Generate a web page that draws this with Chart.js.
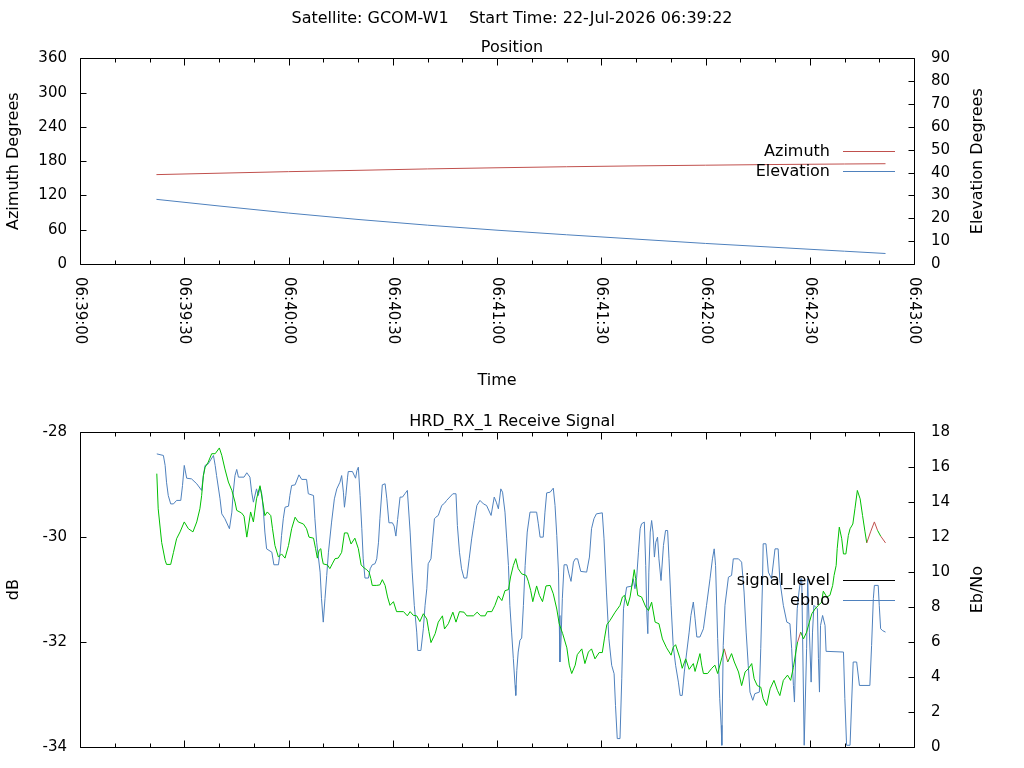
<!DOCTYPE html>
<html>
<head>
<meta charset="utf-8">
<title>GCOM-W1 pass</title>
<script src="https://cdn.jsdelivr.net/npm/chart.js@4.4.1/dist/chart.umd.min.js"></script>
<style>
  html, body { margin: 0; padding: 0; background: #fff; overflow: hidden; }
  #wrap { position: relative; width: 1024px; height: 768px; overflow: hidden; }
  canvas { position: absolute; left: 0; }
  #posChart { top: 0; }
  #sigChart { top: 400px; }
</style>
</head>
<body>
<div id="wrap">
  <canvas id="posChart" width="1024" height="400"></canvas>
  <canvas id="sigChart" width="1024" height="380"></canvas>
</div>
<script>
// time axis is seconds after 06:39:00
const START_HMS = [6, 39, 0];
const titleText = 'Satellite: GCOM-W1    Start Time: 22-Jul-2026 06:39:22';

// position plot
const posTime   = [22, 40, 60, 80, 100, 120, 140, 160, 180, 200, 220, 231.8];
const azimuth   = [156.5, 159, 161.7, 164, 166.5, 168.5, 170.3, 171.8, 173.0, 174.2, 175.1, 175.6];
const elevation = [28.3, 25.4, 22.3, 19.5, 17.0, 14.8, 12.8, 10.9, 9.0, 7.3, 5.6, 4.6];

// receive signal plot
const sigTime = [
  22.1, 22.5, 23.5, 24.5, 24.9, 26.1, 26.9, 27.8, 28.8, 30.0, 31.2, 32.5, 33.6, 34.5, 35.0, 35.5,
  36.0, 36.9, 37.9, 38.9, 40.1, 40.8, 41.7, 42.7, 43.7, 44.6, 45.1, 46.5, 47.2, 48.0, 49.1, 49.9,
  50.8, 51.8, 52.6, 53.2, 53.9, 54.9, 55.4, 56.1, 57.1, 58.0, 59.0, 60.0, 60.9, 61.9, 62.8, 64.3,
  65.2, 65.9, 67.2, 67.8, 68.3, 68.8, 69.3, 69.6, 70.0, 71.2, 71.9, 72.6, 73.4, 74.3, 75.3, 76.1,
  77.0, 78.0, 79.1, 80.1, 80.9, 81.8, 82.5, 83.2, 83.7, 84.1, 85.4, 86.3, 87.0, 87.8, 88.5, 89.2,
  90.2, 91.1, 93.1, 94.2, 95.0, 95.9, 96.9, 97.8, 98.8, 99.8, 100.4, 101.0, 102.2, 103.1, 104.3, 104.9,
  106.0, 107.3, 108.2, 109.2, 110.5, 111.3, 113.2, 114.3, 115.3, 116.6, 117.2, 118.5, 119.4, 120.4, 121.4, 122.3,
  123.3, 123.9, 124.7, 125.4, 126.1, 127.1, 128.4, 129.0, 129.7, 130.3, 131.4, 132.2, 133.1, 134.1, 135.3, 136.2,
  137.2, 137.9, 138.9, 140.1, 140.8, 141.5, 142.5, 143.1, 144.4, 145.3, 146.3, 147.2, 148.2, 149.4, 150.3, 150.9,
  151.6, 152.5, 154.0, 155.4, 156.1, 156.7, 157.6, 158.3, 158.9, 159.5, 159.9, 160.5, 161.6, 162.8, 163.6, 164.5,
  165.5, 166.6, 167.6, 168.8, 170.1, 170.7, 171.4, 172.7, 173.3, 174.3, 175.3, 176.5, 177.0, 178.4, 178.9, 179.4,
  180.6, 181.8, 182.7, 183.5, 184.7, 185.4, 186.4, 187.5, 188.3, 189.5, 190.4, 191.4, 192.3, 193.3, 194.0, 194.9,
  195.9, 196.6, 197.6, 198.6, 199.7, 200.7, 201.4, 202.4, 203.6, 204.5, 205.3, 206.0, 206.5, 207.4, 208.2, 209.1,
  209.9, 210.6, 211.5, 212.5, 213.4, 213.9, 214.9, 215.8, 216.6, 217.0, 217.6, 217.9, 218.5, 219.2, 219.7, 220.4,
  221.1, 221.6, 222.4, 223.0, 223.7, 224.5, 225.2, 225.9, 226.4, 227.5, 228.6, 229.5, 230.4, 231.8
];
const sigLevel = [
  -28.79, -29.46, -30.10, -30.44, -30.52, -30.52, -30.29, -30.03, -29.90, -29.71, -29.84, -29.90, -29.71, -29.46, -29.21, -28.83,
  -28.67, -28.57, -28.41, -28.41, -28.30, -28.44, -28.70, -28.95, -29.11, -29.33, -29.49, -29.54, -29.60, -30.00, -29.52, -29.71,
  -29.27, -29.02, -29.33, -29.59, -29.52, -29.59, -29.84, -30.16, -30.38, -30.32, -30.40, -30.16, -29.84, -29.62, -29.71, -29.75,
  -29.84, -30.00, -30.02, -30.22, -30.40, -30.25, -30.22, -30.38, -30.51, -30.53, -30.60, -30.51, -30.41, -30.40, -30.29, -29.92,
  -29.92, -30.13, -30.02, -30.22, -30.53, -30.59, -30.62, -30.67, -30.79, -30.92, -30.92, -30.91, -30.81, -30.92, -31.14, -31.30,
  -31.23, -31.42, -31.42, -31.50, -31.42, -31.49, -31.50, -31.61, -31.46, -31.56, -31.80, -32.01, -31.84, -31.62, -31.50, -31.75,
  -31.65, -31.43, -31.62, -31.42, -31.43, -31.50, -31.50, -31.43, -31.50, -31.50, -31.42, -31.42, -31.30, -31.12, -31.21, -31.02,
  -31.00, -30.76, -30.54, -30.41, -30.60, -30.70, -30.73, -30.84, -31.02, -31.23, -30.93, -31.11, -31.23, -30.93, -30.92, -31.08,
  -31.37, -31.65, -31.84, -32.11, -32.44, -32.60, -32.44, -32.24, -32.13, -32.41, -32.19, -32.13, -32.32, -32.20, -32.20, -31.94,
  -31.67, -31.59, -31.43, -31.30, -31.14, -31.11, -31.31, -31.14, -30.89, -30.62, -30.79, -31.11, -31.14, -31.33, -31.40, -31.24,
  -31.62, -31.65, -31.94, -32.11, -32.25, -32.10, -32.05, -32.32, -32.50, -32.32, -32.52, -32.41, -32.56, -32.22, -32.44, -32.60,
  -32.60, -32.50, -32.44, -32.60, -32.30, -32.13, -32.38, -32.22, -32.38, -32.57, -32.83, -32.57, -32.51, -32.41, -32.70, -32.83,
  -32.86, -33.08, -33.21, -32.89, -32.73, -32.92, -33.02, -32.73, -32.63, -32.73, -32.48, -32.19, -32.00, -31.81, -31.94, -31.81,
  -31.62, -31.46, -31.37, -31.30, -31.24, -31.03, -31.14, -31.11, -30.92, -30.73, -30.54, -30.22, -29.81, -30.03, -30.32, -30.32,
  -29.97, -29.84, -29.75, -29.46, -29.11, -29.27, -29.59, -29.90, -30.11, -29.90, -29.71, -29.87, -29.98, -30.11
];
// signal_level segments drawn red (start time of the segment)
const redSegStart = [185.4, 206.5, 226.4, 227.5, 228.6, 230.4];

const ebnoTime = [
  22.1, 24.0, 24.5, 24.9, 25.4, 26.1, 26.9, 27.8, 29.0, 29.5, 30.0, 30.7, 32.1, 33.6, 35.0, 35.5,
  36.0, 36.9, 38.4, 38.9, 39.3, 40.3, 40.8, 41.7, 43.0, 43.7, 44.1, 44.6, 45.1, 45.6, 47.2, 48.0,
  48.9, 49.4, 49.9, 50.8, 51.3, 51.8, 52.3, 52.8, 53.2, 53.7, 55.2, 55.8, 57.1, 57.6, 58.0, 58.5,
  59.0, 60.0, 60.4, 60.9, 61.9, 63.0, 63.8, 65.2, 65.7, 67.2, 67.6, 68.1, 69.1, 69.5, 70.0, 70.5,
  71.0, 71.5, 72.4, 73.2, 73.9, 74.8, 75.3, 75.8, 76.1, 76.5, 77.0, 77.2, 78.4, 79.3, 79.7, 80.1,
  80.6, 81.1, 81.5, 82.0, 83.0, 83.5, 84.1, 84.9, 85.4, 85.9, 86.3, 87.0, 87.8, 88.3, 88.9, 89.9,
  90.4, 90.9, 91.4, 92.1, 92.8, 93.5, 94.2, 95.0, 95.6, 96.2, 96.9, 97.2, 98.1, 98.8, 99.3, 99.8,
  100.2, 101.0, 101.4, 102.0, 102.4, 103.1, 104.1, 104.9, 105.5, 107.3, 108.2, 108.6, 109.2, 109.8, 110.5, 111.3,
  112.0, 112.7, 113.5, 114.2, 115.1, 116.1, 117.0, 118.3, 119.2, 119.8, 120.4, 121.1, 121.6, 122.3, 122.8, 123.3,
  123.7, 124.2, 124.7, 125.2, 125.4, 125.7, 126.1, 126.6, 127.1, 127.6, 128.1, 128.7, 129.5, 131.4, 131.9, 132.4,
  133.3, 133.8, 134.3, 135.3, 136.2, 136.7, 137.2, 137.7, 137.9, 138.1, 138.4, 138.8, 139.3, 140.1, 140.7, 141.3,
  142.0, 142.5, 143.2, 144.1, 145.8, 146.6, 147.2, 147.9, 148.6, 150.3, 150.8, 151.5, 152.2, 153.0, 153.7, 154.1,
  154.6, 155.4, 155.9, 156.4, 156.8, 157.3, 158.8, 159.2, 159.7, 160.2, 160.7, 161.2, 161.6, 162.4, 162.8, 163.1,
  163.4, 163.7, 164.1, 164.5, 164.9, 165.3, 165.7, 166.2, 166.6, 167.2, 167.9, 168.5, 169.1, 169.5, 170.1, 170.7,
  171.4, 172.2, 172.7, 173.3, 173.9, 174.6, 175.3, 175.8, 176.5, 177.0, 177.5, 178.4, 179.4, 180.3, 181.3, 182.0,
  182.5, 182.9, 183.5, 184.1, 184.5, 184.7, 185.1, 185.6, 186.6, 187.5, 188.0, 189.5, 190.4, 191.1, 191.7, 192.3,
  192.8, 193.6, 194.2, 195.5, 195.9, 196.4, 196.6, 197.4, 198.1, 199.0, 200.0, 200.9, 201.4, 202.4, 203.4, 204.3,
  204.8, 205.3, 205.6, 206.0, 206.4, 206.9, 207.4, 207.7, 208.4, 209.1, 209.4, 209.9, 210.4, 210.8, 211.2, 212.2,
  212.5, 212.8, 213.1, 213.7, 214.4, 214.7, 219.7, 220.1, 220.6, 221.6, 222.1, 222.5, 223.5, 224.3, 227.3, 227.8,
  228.3, 228.6, 229.7, 230.0, 230.4, 231.0, 231.8
];
const ebno = [
  16.76, 16.67, 16.10, 15.14, 14.38, 13.90, 13.90, 14.10, 14.10, 14.95, 16.10, 15.37, 15.33, 15.05, 14.67, 15.52,
  16.10, 16.19, 16.67, 16.10, 15.52, 14.19, 13.33, 13.05, 12.48, 13.43, 14.57, 15.52, 15.87, 15.43, 15.43, 15.68,
  15.43, 14.57, 14.00, 14.76, 14.38, 14.86, 14.48, 13.43, 12.29, 11.33, 11.14, 10.42, 10.42, 11.14, 12.10, 13.05,
  13.71, 13.77, 14.38, 14.95, 14.99, 15.56, 15.30, 15.30, 14.48, 14.38, 13.05, 11.71, 10.00, 8.48, 7.14, 8.48,
  9.81, 11.14, 12.86, 14.19, 14.76, 15.14, 15.52, 14.57, 13.71, 14.38, 15.43, 15.75, 15.75, 15.37, 15.81, 16.00,
  14.38, 12.48, 10.76, 9.66, 9.66, 10.19, 10.42, 10.48, 10.76, 11.71, 13.05, 14.99, 15.05, 14.19, 12.82, 12.82,
  12.63, 12.06, 13.01, 14.29, 14.29, 14.48, 14.67, 12.29, 10.00, 8.10, 6.57, 5.52, 5.52, 6.76, 8.10, 9.05,
  10.48, 10.76, 11.71, 13.05, 13.14, 13.24, 13.81, 13.94, 14.10, 14.48, 14.48, 12.67, 11.14, 10.19, 9.66, 9.66,
  10.76, 11.90, 12.95, 13.81, 14.10, 13.90, 13.81, 13.24, 14.29, 14.00, 13.62, 14.76, 14.57, 13.43, 11.90, 10.38,
  8.10, 6.57, 5.05, 3.52, 2.95, 4.38, 5.43, 6.10, 6.23, 8.10, 10.38, 12.29, 13.43, 13.43, 12.76, 12.00,
  12.00, 13.43, 14.53, 14.57, 14.80, 13.81, 12.10, 10.00, 7.52, 4.86, 6.00, 8.48, 10.42, 10.42, 9.90, 9.47,
  10.57, 10.76, 10.76, 10.04, 10.00, 10.86, 12.48, 13.05, 13.33, 13.39, 11.90, 8.86, 6.19, 4.67, 4.19, 2.38,
  0.48, 0.48, 3.90, 7.90, 8.48, 9.14, 9.20, 9.62, 9.05, 9.71, 11.14, 12.48, 12.76, 12.86, 10.38, 7.71,
  6.48, 10.00, 12.29, 12.95, 12.29, 10.86, 11.71, 12.00, 10.76, 9.52, 11.52, 12.38, 12.38, 10.76, 8.10, 5.81,
  4.67, 3.71, 2.95, 2.95, 4.29, 5.43, 6.57, 7.52, 8.29, 7.33, 6.29, 6.29, 6.76, 8.10, 9.62, 10.76,
  11.33, 10.38, 6.19, 2.76, 1.24, 0.10, 5.81, 8.10, 9.71, 9.81, 10.76, 10.76, 10.57, 8.86, 6.57, 4.67,
  3.14, 2.67, 3.05, 3.14, 5.62, 9.43, 11.62, 11.62, 10.00, 9.62, 11.33, 11.33, 9.52, 8.10, 7.14, 7.05,
  5.62, 3.52, 2.57, 5.62, 7.90, 8.86, 9.62, 9.62, 0.10, 5.62, 9.62, 6.57, 3.71, 6.57, 8.10, 7.90,
  5.05, 3.14, 6.95, 7.52, 6.95, 5.47, 5.43, 2.76, 0.10, 0.10, 2.80, 4.86, 4.86, 3.52, 3.52, 5.81,
  8.48, 9.24, 9.24, 8.10, 6.76, 6.65, 6.57
];

const RED = '#c0504d';
const BLUE = '#4f81bd';
const GREEN = '#00c000';
const FONT = 'DejaVu Sans';

Chart.defaults.color = '#000';
Chart.defaults.font.family = FONT;

function hms(t) {
  const total = START_HMS[0] * 3600 + START_HMS[1] * 60 + START_HMS[2] + t;
  const h = Math.floor(total / 3600), m = Math.floor(total % 3600 / 60), s = total % 60;
  return [h, m, s].map(v => String(v).padStart(2, '0')).join(':');
}

function pts(xs, ys) {
  return xs.map((x, i) => ({ x: x, y: ys[i] }));
}

// gnuplot style frame: box, inward ticks, key at right center, y2 label, rotated time labels
const gnuFrame = {
  id: 'gnuFrame',
  afterDraw(chart, args, opts) {
    const ctx = chart.ctx;
    const a = chart.chartArea;
    const L = Math.round(a.left) + 0.5, R = Math.round(a.right) + 0.5;
    const T = Math.round(a.top) + 0.5, B = Math.round(a.bottom) + 0.5;
    ctx.save();
    ctx.strokeStyle = '#000';
    ctx.lineWidth = 1;
    ctx.beginPath();
    ctx.rect(L, T, R - L, B - T);
    const xs = chart.scales.x;
    xs.ticks.forEach(tk => {
      const px = Math.round(xs.getPixelForValue(tk.value)) + 0.5;
      const len = tk.value % 30 === 0 ? 7 : 4;
      ctx.moveTo(px, B); ctx.lineTo(px, B - len);
      ctx.moveTo(px, T); ctx.lineTo(px, T + len);
    });
    const y1 = chart.scales.y, y2 = chart.scales.y2;
    y1.ticks.forEach(tk => {
      const py = Math.round(y1.getPixelForValue(tk.value)) + 0.5;
      ctx.moveTo(L, py); ctx.lineTo(L + 6, py);
    });
    y2.ticks.forEach(tk => {
      const py = Math.round(y2.getPixelForValue(tk.value)) + 0.5;
      ctx.moveTo(R, py); ctx.lineTo(R - 6, py);
    });
    ctx.stroke();

    ctx.fillStyle = '#000';
    if (opts.timeLabels) {
      ctx.font = '15px ' + FONT;
      ctx.textAlign = 'left';
      ctx.textBaseline = 'middle';
      xs.ticks.forEach(tk => {
        if (tk.value % 30 !== 0) return;
        ctx.save();
        ctx.translate(xs.getPixelForValue(tk.value), a.bottom + 13);
        ctx.rotate(Math.PI / 2);
        ctx.fillText(hms(tk.value), 0, 0);
        ctx.restore();
      });
    }

    // y2 label, reading bottom to top like the left one
    ctx.save();
    ctx.font = '16px ' + FONT;
    ctx.textAlign = 'center';
    ctx.textBaseline = 'middle';
    ctx.translate(978, (a.top + a.bottom) / 2);
    ctx.rotate(-Math.PI / 2);
    ctx.fillText(opts.y2Title, 0, 0);
    ctx.restore();

    // key
    const ds = chart.data.datasets;
    const cy = (a.top + a.bottom) / 2 - (ds.length - 1) * 10;
    ctx.font = '16px ' + FONT;
    ctx.textAlign = 'right';
    ctx.textBaseline = 'middle';
    ds.forEach((d, i) => {
      const y = Math.round(cy + i * 20) + 0.5;
      ctx.fillStyle = '#000';
      ctx.fillText(d.label, a.right - 84, y);
      ctx.beginPath();
      ctx.strokeStyle = d.borderColor;
      ctx.moveTo(a.right - 71, y);
      ctx.lineTo(a.right - 19, y);
      ctx.stroke();
    });
    ctx.restore();
  }
};

const titleFont = { family: FONT, size: 16, weight: 'normal' };
const tickFont = { family: FONT, size: 15 };

function yAxis(pos, min, max, step, title) {
  return {
    type: 'linear',
    position: pos,
    min: min, max: max,
    ticks: { stepSize: step, padding: pos === 'left' ? 13 : 17, font: tickFont, color: '#000' },
    grid: { display: false, drawTicks: false },
    border: { display: false },
    title: { display: pos === 'left', text: title, font: titleFont, color: '#000', padding: { top: 4, bottom: 0 } },
    afterFit: s => { s.width = pos === 'left' ? 80 : 110; }
  };
}

new Chart(document.getElementById('posChart'), {
  type: 'line',
  data: {
    datasets: [
      { label: 'Azimuth', data: pts(posTime, azimuth), yAxisID: 'y', borderColor: RED },
      { label: 'Elevation', data: pts(posTime, elevation), yAxisID: 'y2', borderColor: BLUE }
    ]
  },
  options: {
    responsive: false,
    animation: false,
    devicePixelRatio: 1,
    elements: { point: { radius: 0 }, line: { borderWidth: 1, tension: 0 } },
    layout: { padding: 0 },
    plugins: {
      legend: { display: false },
      tooltip: { enabled: false },
      title: { display: true, text: titleText, font: titleFont, color: '#000', padding: { top: 9, bottom: 10 } },
      subtitle: { display: true, text: 'Position', font: titleFont, color: '#000', padding: { top: 0, bottom: 1 } },
      gnuFrame: { timeLabels: true, y2Title: 'Elevation Degrees' }
    },
    scales: {
      x: {
        type: 'linear', min: 0, max: 240,
        ticks: { stepSize: 10, display: false },
        grid: { display: false, drawTicks: false },
        border: { display: false },
        title: { display: true, text: 'Time', font: titleFont, color: '#000', padding: { top: 0, bottom: 10 } },
        afterFit: s => { s.height = 136; }
      },
      y: yAxis('left', 0, 360, 60, 'Azimuth Degrees'),
      y2: yAxis('right', 0, 90, 10, 'Elevation Degrees')
    }
  },
  plugins: [gnuFrame]
});

// the lower plot's time labels fall below the window, so its canvas runs past the bottom edge
new Chart(document.getElementById('sigChart'), {
  type: 'line',
  data: {
    datasets: [
      {
        label: 'signal_level', data: pts(sigTime, sigLevel), yAxisID: 'y', borderColor: '#000',
        segment: { borderColor: c => redSegStart.includes(sigTime[c.p0DataIndex]) ? RED : GREEN }
      },
      { label: 'ebno', data: pts(ebnoTime, ebno), yAxisID: 'y2', borderColor: BLUE }
    ]
  },
  options: {
    responsive: false,
    animation: false,
    devicePixelRatio: 1,
    elements: { point: { radius: 0 }, line: { borderWidth: 1, tension: 0 } },
    layout: { padding: 0 },
    plugins: {
      legend: { display: false },
      tooltip: { enabled: false },
      title: { display: true, text: 'HRD_RX_1 Receive Signal', font: titleFont, color: '#000', padding: { top: 12, bottom: 1 } },
      gnuFrame: { timeLabels: false, y2Title: 'Eb/No' }
    },
    scales: {
      x: {
        type: 'linear', min: 0, max: 240,
        ticks: { stepSize: 10, display: false },
        grid: { display: false, drawTicks: false },
        border: { display: false },
        afterFit: s => { s.height = 33; }
      },
      y: yAxis('left', -34, -28, 2, 'dB'),
      y2: yAxis('right', 0, 18, 2, 'Eb/No')
    }
  },
  plugins: [gnuFrame]
});
</script>
</body>
</html>
